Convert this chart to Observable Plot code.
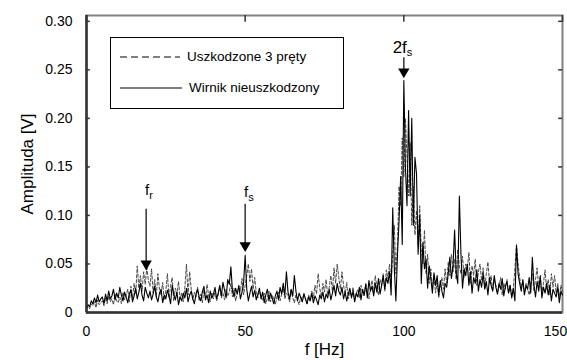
<!DOCTYPE html>
<html>
<head>
<meta charset="utf-8">
<script src="https://cdn.jsdelivr.net/npm/d3@7"></script>
<script src="https://cdn.jsdelivr.net/npm/@observablehq/plot@0.6"></script>
<style>
  html, body { margin: 0; padding: 0; background: #fff; }
  #wrap { position: relative; width: 567px; height: 360px; font-family: "Liberation Sans", Arial, sans-serif; overflow: hidden; }
  #legend { position: absolute; left: 110px; top: 37px; width: 234px; height: 72px; border: 1px solid #000; background: #fff; box-sizing: border-box; }
  #legend .row { position: absolute; left: 9px; display: flex; align-items: center; font-size: 13.5px; color: #000; }
  #legend svg { margin-right: 7px; }
  g[aria-label="y-axis label"], g[aria-label="x-axis label"] { font-size: 17px; }
</style>
</head>
<body>
<div id="wrap">
  <div id="chart"></div>
  <div id="legend">
    <div class="row" style="top:11px"><svg width="60" height="8"><line x1="0" y1="4" x2="60" y2="4" stroke="#000" stroke-width="1" stroke-dasharray="7,4"/></svg><span>Uszkodzone 3 pręty</span></div>
    <div class="row" style="top:42px"><svg width="62" height="8"><line x1="0" y1="4" x2="62" y2="4" stroke="#000" stroke-width="1"/></svg><span>Wirnik nieuszkodzony</span></div>
  </div>
</div>
<script>
// Frequency grid [Hz], 0.5 Hz step
const freqs = d3.range(0, 301).map(i => i * 0.5);

// Amplitude [V] — healthy rotor (solid)
const healthy = [
.004,.008,.006,.012,.009,.015,.010,.018,.011,.014,
.016,.009,.019,.012,.022,.014,.017,.024,.013,.020,
.015,.026,.018,.012,.021,.016,.010,.019,.023,.011,
.017,.025,.014,.021,.030,.018,.012,.026,.020,.015,
.022,.013,.019,.027,.016,.011,.020,.024,.010,.018,
.014,.023,.017,.009,.028,.019,.013,.021,.008,.016,
.012,.020,.015,.025,.011,.018,.022,.014,.009,.019,
.024,.016,.012,.021,.027,.013,.018,.010,.022,.015,
.019,.026,.014,.020,.028,.017,.031,.023,.015,.034,
.029,.047,.022,.016,.025,.019,.028,.014,.021,.030,
.059,.024,.012,.020,.027,.016,.023,.013,.019,.025,
.014,.021,.010,.018,.024,.012,.020,.015,.009,.017,
.022,.013,.026,.019,.030,.018,.042,.021,.014,.024,
.017,.038,.022,.012,.020,.016,.011,.019,.014,.009,
.016,.012,.020,.010,.017,.013,.008,.018,.014,.021,
.011,.019,.015,.024,.013,.020,.028,.017,.030,.022,
.018,.026,.014,.021,.012,.019,.025,.015,.022,.011,
.020,.016,.026,.013,.024,.018,.029,.015,.033,.022,
.027,.017,.030,.021,.035,.019,.028,.038,.024,.036,
.030,.042,.018,.108,.045,.012,.060,.095,.140,.070,
.239,.150,.110,.208,.120,.200,.090,.160,.143,.060,
.100,.030,.072,.045,.055,.025,.048,.035,.020,.041,
.028,.038,.018,.033,.022,.015,.030,.026,.040,.057,
.035,.048,.085,.040,.030,.120,.060,.025,.045,.038,
.050,.028,.042,.020,.036,.030,.044,.022,.034,.026,
.040,.024,.032,.018,.036,.028,.022,.038,.026,.019,
.030,.024,.035,.017,.027,.032,.020,.028,.015,.025,
.012,.069,.040,.030,.022,.034,.018,.028,.024,.036,
.020,.057,.028,.016,.032,.022,.038,.015,.026,.020,
.030,.018,.028,.012,.024,.020,.016,.026,.010,.022,
.018
];

// Amplitude [V] — 3 broken bars (dashed)
const damaged = [
.003,.006,.004,.009,.007,.011,.005,.013,.008,.010,
.012,.007,.015,.009,.017,.011,.014,.008,.019,.012,
.010,.016,.009,.021,.013,.018,.024,.011,.027,.015,
.030,.019,.048,.025,.038,.022,.042,.029,.046,.033,
.027,.045,.020,.034,.016,.040,.024,.018,.031,.013,
.022,.040,.015,.028,.036,.012,.025,.019,.032,.014,
.020,.011,.026,.050,.018,.042,.024,.013,.021,.016,
.026,.012,.019,.010,.023,.015,.029,.017,.011,.020,
.014,.022,.012,.018,.026,.015,.020,.013,.024,.017,
.021,.030,.016,.025,.012,.019,.027,.022,.035,.018,
.028,.038,.050,.032,.045,.024,.036,.020,.015,.022,
.017,.012,.020,.009,.015,.022,.011,.018,.014,.008,
.016,.021,.012,.019,.025,.014,.020,.017,.011,.023,
.015,.010,.018,.013,.008,.016,.011,.020,.014,.009,
.018,.012,.022,.015,.028,.019,.040,.025,.016,.030,
.021,.034,.018,.026,.038,.022,.046,.030,.050,.036,
.024,.042,.028,.019,.031,.014,.022,.017,.026,.012,
.019,.024,.015,.028,.020,.017,.030,.022,.014,.026,
.033,.020,.038,.026,.018,.034,.028,.040,.022,.044,
.035,.050,.030,.060,.090,.040,.070,.130,.110,.180,
.140,.200,.160,.120,.175,.090,.130,.080,.105,.070,
.110,.065,.050,.085,.040,.060,.030,.045,.025,.038,
.020,.032,.015,.028,.036,.024,.045,.030,.052,.038,
.060,.042,.055,.034,.065,.048,.040,.058,.036,.050,
.044,.062,.030,.048,.038,.055,.028,.042,.050,.033,
.046,.025,.040,.052,.030,.038,.022,.034,.028,.020,
.026,.036,.018,.030,.024,.034,.020,.028,.016,.025,
.045,.070,.050,.036,.026,.032,.020,.030,.024,.018,
.028,.040,.022,.034,.046,.026,.036,.020,.030,.044,
.024,.034,.018,.040,.026,.038,.020,.030,.016,.028,
.022
];

const xTicks = [0, 50, 100, 150];
const yTicks = [0, 0.05, 0.10, 0.15, 0.20, 0.25, 0.30];
const yTickLabels = ["0", "0.05", "0.10", "0.15", "0.20", "0.25", "0.30"];

// Annotations
const annotations = [
  {main: "f", sub: "r", x: 18.8, yText: 0.126, y1: 0.107, y2: 0.046, size: 15},
  {main: "f", sub: "s", x: 50, yText: 0.124, y1: 0.112, y2: 0.065, size: 15},
  {main: "2f", sub: "s", x: 100, yText: 0.273, y1: 0.263, y2: 0.244, size: 17}
];

const chart = Plot.plot({
  width: 567,
  height: 360,
  marginLeft: 86,
  marginRight: 5,
  marginTop: 15,
  marginBottom: 48,
  style: {fontFamily: "'Liberation Sans', Arial, sans-serif", fontSize: "14px", color: "#000", background: "#fff"},
  x: {domain: [0, 150], label: "f [Hz]", labelArrow: "none"},
  y: {domain: [0, 0.306], label: "Amplituda [V]", labelArrow: "none"},
  marks: [
    Plot.frame({stroke: "#808080", strokeWidth: 2}),
    Plot.axisX(xTicks.slice(0, 3), {tickSize: 0, tickPadding: 14, label: "f [Hz]", labelAnchor: "center", labelOffset: 42, labelArrow: "none"}),
    Plot.axisX(xTicks.slice(3), {tickSize: 0, tickPadding: 14, dx: -7, label: null}),
    Plot.axisY(yTicks, {tickSize: 0, tickPadding: 14, tickFormat: (d) => yTickLabels[yTicks.findIndex(t => Math.abs(t - d) < 1e-9)], label: "Amplituda [V]", labelAnchor: "center", labelOffset: 66, labelArrow: "none"}),
    Plot.line(damaged, {x: (d, i) => freqs[i], y: (d) => d, stroke: "#4a4a4a", strokeWidth: 1, strokeDasharray: "3,2"}),
    Plot.line(healthy, {x: (d, i) => freqs[i], y: (d) => d, stroke: "#000", strokeWidth: 1.1}),
    // inward ticks
    Plot.ruleY(yTicks, {y: d => d, x1: 0, x2: 1.2, stroke: "#333", strokeWidth: 1.5}),
    Plot.ruleY(yTicks, {y: d => d, x1: 148.8, x2: 150, stroke: "#333", strokeWidth: 1.5}),
    Plot.ruleX(xTicks, {x: d => d, y1: 0.306, y2: 0.299, stroke: "#333", strokeWidth: 1.5}),
    Plot.ruleX([0], {stroke: "#333", strokeWidth: 2.5}),
    Plot.ruleY([0], {stroke: "#333", strokeWidth: 2.5}),
    // annotations
    Plot.link(annotations, {x1: "x", x2: "x", y1: "y1", y2: "y2", stroke: "#333", strokeWidth: 1.5}),
    Plot.dot(annotations, {x: "x", y: "y2", symbol: "triangle", rotate: 180, r: 4.2, fill: "#000", stroke: "none", dy: -4}),
    Plot.text(annotations, {x: "x", y: "yText", text: "main", fontSize: "size", textAnchor: "end", dx: 3, fill: "#000"}),
    Plot.text(annotations, {x: "x", y: "yText", text: "sub", fontSize: 11, textAnchor: "start", dx: 3, dy: 5, fill: "#000"})
  ]
});
document.getElementById("chart").appendChild(chart);
</script>
</body>
</html>
